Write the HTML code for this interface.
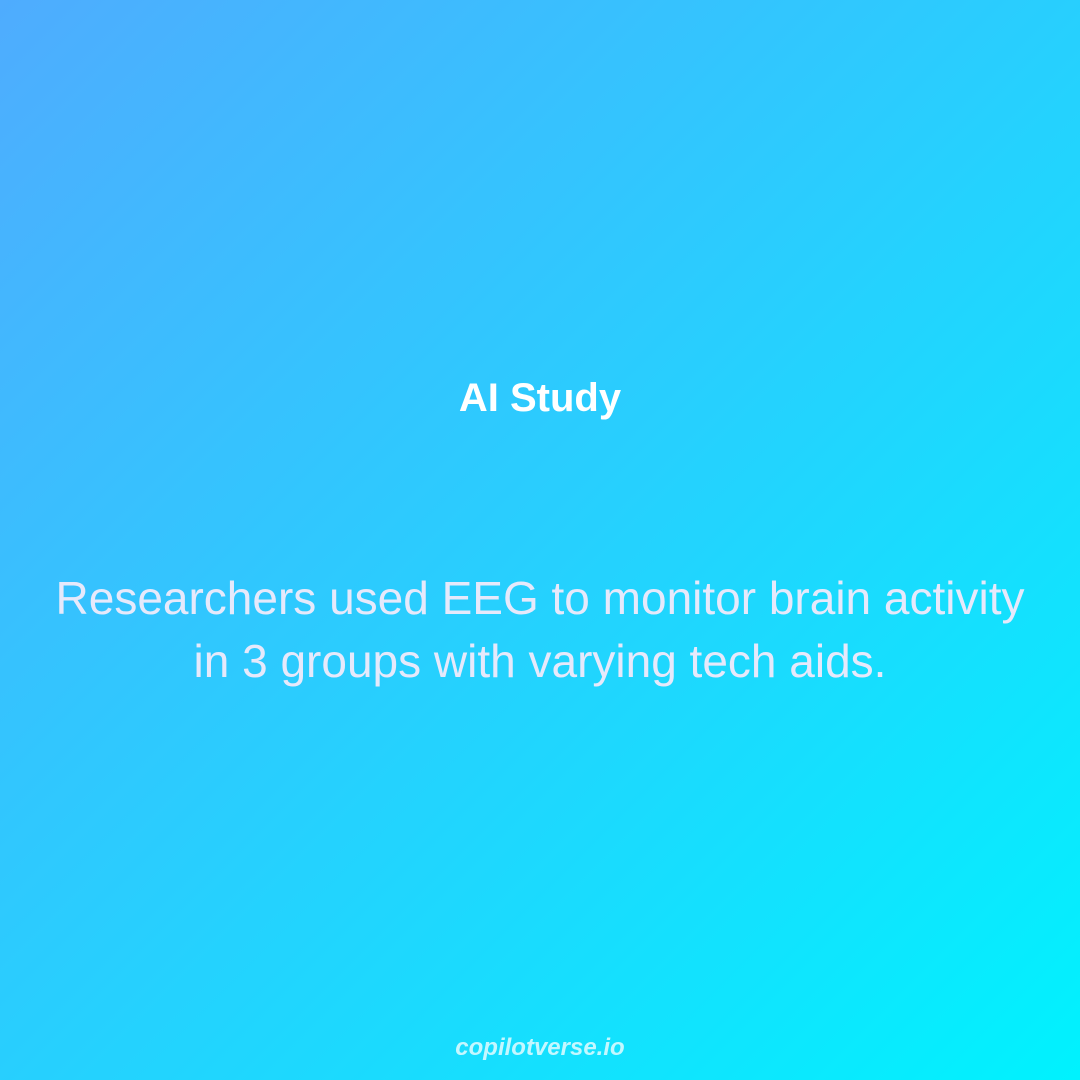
<!DOCTYPE html>
<html>
<head>
<meta charset="utf-8">
<style>
  html, body { margin: 0; padding: 0; }
  body {
    width: 1080px; height: 1080px; overflow: hidden;
    background: linear-gradient(135deg, #4facfe 0%, #00f2fe 100%);
    font-family: "Liberation Sans", Arial, sans-serif;
    position: relative;
  }
  .title {
    position: absolute; left: 0; width: 1080px; top: 374px;
    text-align: center; color: #ffffff; font-weight: bold; font-size: 40px;
    line-height: 48px;
  }
  .body-text {
    position: absolute; left: 20px; width: 1040px; top: 567px;
    text-align: center; color: #e6e9fb; font-size: 46px; line-height: 63px;
  }
  .footer {
    position: absolute; left: 0; width: 1080px; top: 1033px;
    text-align: center; color: rgba(255,255,255,0.75); font-size: 24px;
    font-weight: bold; font-style: italic; line-height: 30px;
  }
</style>
</head>
<body>
  <div class="title">AI Study</div>
  <div class="body-text">Researchers used EEG to monitor brain activity<br>in 3 groups with varying tech aids.</div>
  <div class="footer">copilotverse.io</div>
</body>
</html>
